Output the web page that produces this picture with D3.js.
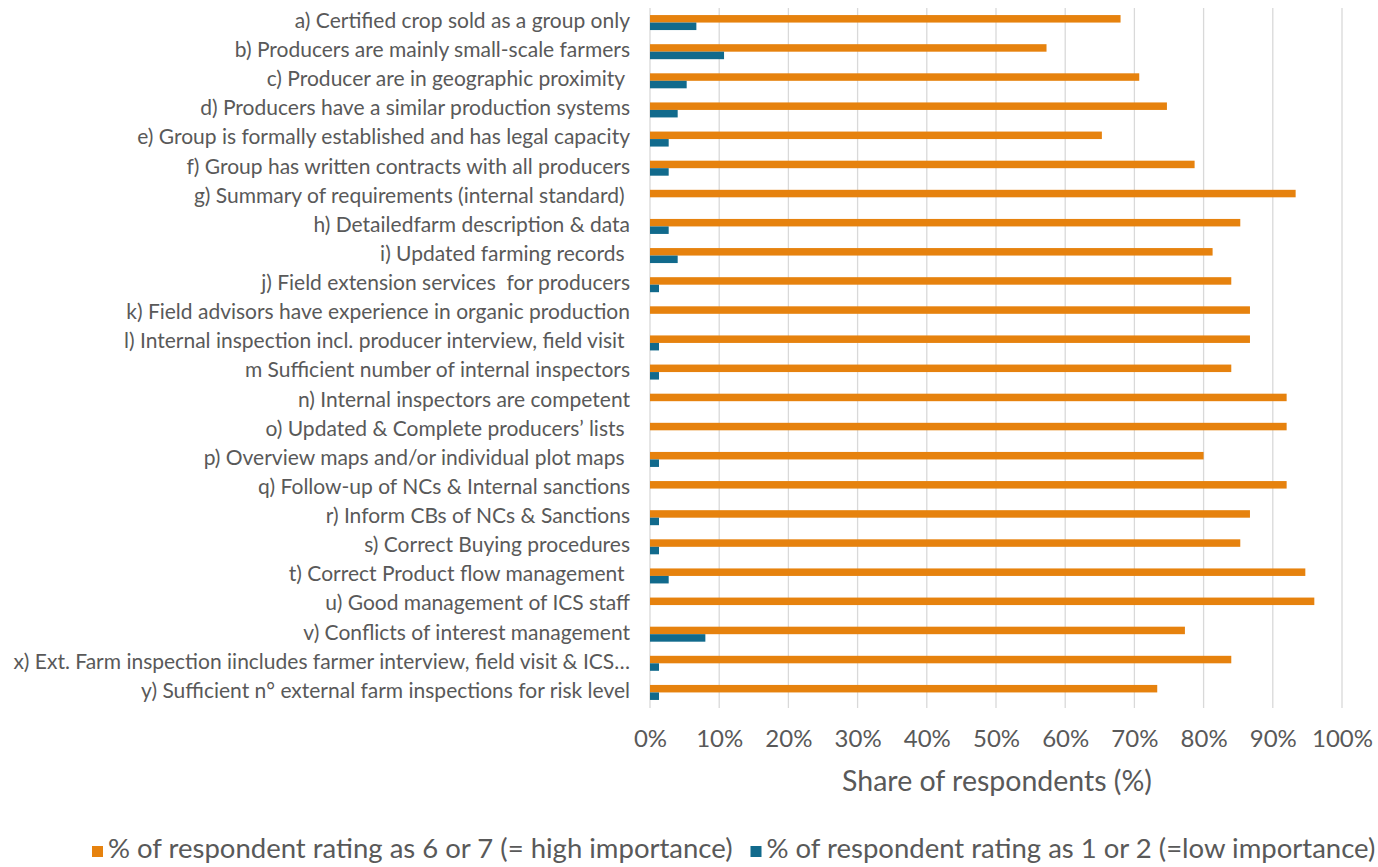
<!DOCTYPE html>
<html><head><meta charset="utf-8">
<script src="https://cdn.jsdelivr.net/npm/d3@7"></script>
<style>
html,body{margin:0;padding:0;background:#fff;}
svg{display:block;font-family:Lato,"Open Sans",sans-serif;}
</style></head>
<body>
<svg id="chart" width="1378" height="867"></svg>
<script>
const categories = [
  "a) Certified crop sold as a group only",
  "b) Producers are mainly small-scale farmers",
  "c) Producer are in geographic proximity ",
  "d) Producers have a similar production systems",
  "e) Group is formally established and has legal capacity",
  "f) Group has written contracts with all producers",
  "g) Summary of requirements (internal standard) ",
  "h) Detailedfarm description & data",
  "i) Updated farming records ",
  "j) Field extension services  for producers",
  "k) Field advisors have experience in organic production",
  "l) Internal inspection incl. producer interview, field visit ",
  "m Sufficient number of internal inspectors",
  "n) Internal inspectors are competent",
  "o) Updated & Complete producers’ lists ",
  "p) Overview maps and/or individual plot maps ",
  "q) Follow-up of NCs & Internal sanctions",
  "r) Inform CBs of NCs & Sanctions",
  "s) Correct Buying procedures",
  "t) Correct Product flow management ",
  "u) Good management of ICS staff",
  "v) Conflicts of interest management",
  "x) Ext. Farm inspection iincludes farmer interview, field visit & ICS…",
  "y) Sufficient n° external farm inspections for risk level"
];
const highImportance = [68.0,57.3,70.7,74.7,65.3,78.7,93.3,85.3,81.3,84.0,86.7,86.7,84.0,92.0,92.0,80.0,92.0,86.7,85.3,94.7,96.0,77.3,84.0,73.3];
const lowImportance  = [6.7,10.7,5.3,4.0,2.7,2.7,0,2.7,4.0,1.3,0,1.3,1.3,0,0,1.3,0,1.3,1.3,2.7,0,8.0,1.3,1.3];
const seriesNames = ["% of respondent rating as 6 or 7 (= high importance)","% of respondent rating as 1 or 2 (=low importance)"];
const seriesColors = ["#E6820E","#116A8C"];
const xTicks = [0,10,20,30,40,50,60,70,80,90,100];
const xTitle = "Share of respondents (%)";

const svg = d3.select("#chart");
const textColor = "#595959";

const x = d3.scaleLinear().domain([0,100]).range([650,1342]);
const y = d3.scaleBand().domain(categories).range([8,707]).paddingInner(0.485).paddingOuter(0.2425);
const ySub = d3.scaleBand().domain([0,1]).range([0,y.bandwidth()]).padding(0);

// gridlines
svg.append("g").selectAll("line").data(xTicks).join("line")
  .attr("x1",d=>x(d)).attr("x2",d=>x(d)).attr("y1",8).attr("y2",708)
  .attr("stroke","#d9d9d9").attr("stroke-width",1.3);

// bars
const rows = categories.map((c,i)=>({c,vals:[highImportance[i],lowImportance[i]]}));
const g = svg.append("g").selectAll("g").data(rows).join("g")
  .attr("transform",d=>`translate(0,${y(d.c)})`);
g.selectAll("rect").data(d=>d.vals.map((v,k)=>({v,k}))).join("rect")
  .attr("x",x(0)).attr("y",d=>ySub(d.k)).attr("height",ySub.bandwidth())
  .attr("width",d=>x(d.v)-x(0)).attr("fill",d=>seriesColors[d.k]);

// category labels
svg.append("g").selectAll("text").data(categories).join("text")
  .attr("x",630).attr("y",d=>y(d)+y.bandwidth()/2)
  .attr("text-anchor","end").attr("dominant-baseline","middle")
  .attr("fill",textColor).attr("font-size",21)
  .style("white-space","pre")
  .text(d=>d);

// x axis
const xAxis = d3.axisBottom(x).tickValues(xTicks).tickFormat(d=>d+"%").tickSize(0).tickPadding(0);
const ax = svg.append("g").attr("transform","translate(0,730)").call(xAxis);
ax.select(".domain").remove();
ax.selectAll("text").attr("fill",textColor).attr("font-size",24).attr("font-family","Lato,'Open Sans',sans-serif");

svg.append("text").attr("x",997).attr("y",784)
  .attr("text-anchor","middle").attr("dominant-baseline","middle")
  .attr("fill",textColor).attr("font-size",28.5).text(xTitle);

// legend
const leg = svg.append("g").attr("transform","translate(0,851)");
const legItems = leg.selectAll("g").data(seriesNames).join("g");
legItems.append("rect").attr("width",11).attr("height",11).attr("y",-5).attr("fill",(d,i)=>seriesColors[i]);
legItems.append("text").attr("x",16).attr("dominant-baseline","middle")
  .attr("fill",textColor).attr("font-size",27.5).text(d=>d);
const widths=[];
legItems.each(function(){widths.push(this.getBBox().width);});
legItems.attr("transform",(d,i)=>`translate(${i===0?92:92+widths[0]+18},0)`);
</script>
</body></html>
